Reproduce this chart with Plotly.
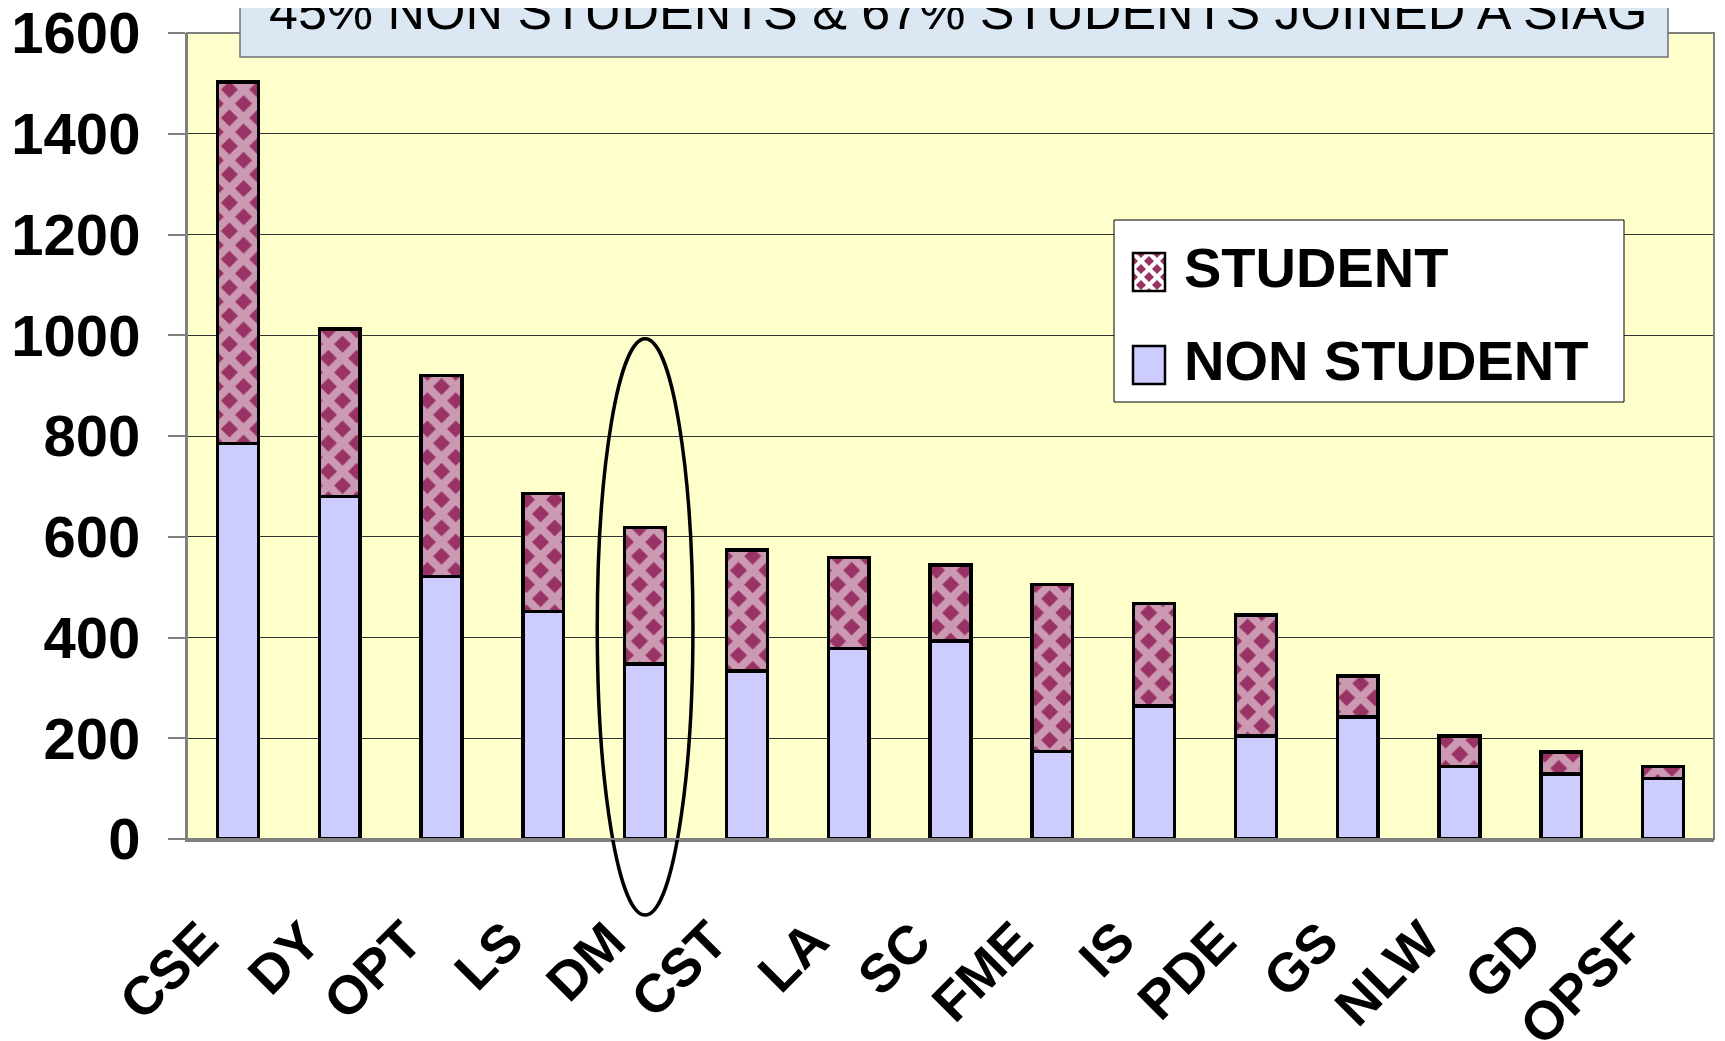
import plotly.graph_objects as go

categories = ["CSE", "DY", "OPT", "LS", "DM", "CST", "LA", "SC", "FME", "IS", "PDE", "GS", "NLW", "GD", "OPSF"]
non_student = [785, 680, 521, 452, 347, 334, 378, 393, 174, 264, 204, 242, 144, 129, 120]
student = [718, 332, 399, 234, 271, 240, 181, 151, 331, 204, 241, 82, 60, 44, 24]
y_ticks = [0, 200, 400, 600, 800, 1000, 1200, 1400, 1600]
title_text = "45% NON STUDENTS & 67% STUDENTS JOINED A SIAG"
legend_labels = ["STUDENT", "NON STUDENT"]

FONT = "Liberation Sans, Arial, sans-serif"
Y_MAX = 1600
MAROON = "#993366"
LAVENDER = "#CCCCFF"

W, H = 1725, 1041
ML, MR, MT, MB = 179, 19, 25, 210
BODY = 8  # default page margin of the html body
PL, PR, PT, PB = BODY + ML, BODY + W - MR, BODY + MT, BODY + H - MB


def px(x):
    return (x - PL) / (PR - PL)


def py(y):
    return (PB - y) / (PB - PT)


fig = go.Figure()
fig.add_trace(go.Bar(
    x=categories, y=non_student, name=legend_labels[1], showlegend=False,
    marker=dict(color=LAVENDER, line=dict(color="black", width=3.5)),
))
fig.add_trace(go.Bar(
    x=categories, y=student, name=legend_labels[0], showlegend=False,
    marker=dict(color=MAROON, line=dict(color="black", width=3.5),
                pattern=dict(shape="x", fgcolor="white", bgcolor=MAROON,
                             size=20, solidity=0.64)),
))

# highlight ellipse around DM (category/value units converted to paper)
n = len(categories)
dm = categories.index("DM")
ell_half = 0.47
ell_top, ell_bottom = 993, -151

shapes = [
    dict(type="circle", xref="paper", yref="paper",
         x0=(dm + 0.5 - ell_half) / n, x1=(dm + 0.5 + ell_half) / n,
         y0=ell_bottom / Y_MAX, y1=ell_top / Y_MAX,
         line=dict(color="black", width=3.5), fillcolor="rgba(0,0,0,0)", layer="above"),
    # plot area border
    dict(type="rect", xref="paper", yref="paper", x0=0, x1=1, y0=0, y1=1,
         line=dict(color="#808080", width=2), fillcolor="rgba(0,0,0,0)", layer="above"),
    # title box
    dict(type="rect", xref="paper", yref="paper", x0=px(240), x1=px(1668), y0=py(57), y1=1.2,
         line=dict(color="#707070", width=1.5), fillcolor="#DCE7F4", layer="above"),
    # legend box
    dict(type="rect", xref="paper", yref="paper", x0=px(1114), x1=px(1624), y0=py(402), y1=py(220),
         line=dict(color="black", width=1), fillcolor="white", layer="above"),
]

# legend swatches (pixel boxes)
sw_x0, sw_x1 = 1133, 1165
sw_student = (253, 291)
sw_non = (346, 384)


def clip_poly(poly, x0, x1, y0, y1):
    def clip(pts, inside, inter):
        out = []
        for i in range(len(pts)):
            cur, prev = pts[i], pts[i - 1]
            if inside(cur):
                if not inside(prev):
                    out.append(inter(prev, cur))
                out.append(cur)
            elif inside(prev):
                out.append(inter(prev, cur))
        return out

    def ix(xc):
        return lambda a, b: (xc, a[1] + (b[1] - a[1]) * (xc - a[0]) / (b[0] - a[0]))

    def iy(yc):
        return lambda a, b: (a[0] + (b[0] - a[0]) * (yc - a[1]) / (b[1] - a[1]), yc)

    pts = poly
    for ins, itr in [(lambda p: p[0] >= x0, ix(x0)), (lambda p: p[0] <= x1, ix(x1)),
                     (lambda p: p[1] >= y0, iy(y0)), (lambda p: p[1] <= y1, iy(y1))]:
        if not pts:
            break
        pts = clip(pts, ins, itr)
    return pts


s = 16
r = 5.0
diamond_paths = []
ya, yb = sw_student
for j in range(-1, 8):
    for i in range(-1, 4):
        cx = sw_x0 + i * s + (s / 2 if j % 2 == 0 else 0)
        cy = ya + j * s / 2
        poly = [(cx, cy - r), (cx + r, cy), (cx, cy + r), (cx - r, cy)]
        cp = clip_poly(poly, sw_x0, sw_x1, ya, yb)
        if len(cp) >= 3:
            diamond_paths.append("M" + "L".join(f"{px(x):.5f},{py(y):.5f}" for x, y in cp) + "Z")

shapes += [
    dict(type="rect", xref="paper", yref="paper", x0=px(sw_x0), x1=px(sw_x1),
         y0=py(sw_student[1]), y1=py(sw_student[0]),
         line=dict(width=0), fillcolor="white", layer="above"),
    dict(type="path", xref="paper", yref="paper", path="".join(diamond_paths),
         line=dict(width=0), fillcolor=MAROON, layer="above"),
    dict(type="rect", xref="paper", yref="paper", x0=px(sw_x0), x1=px(sw_x1),
         y0=py(sw_student[1]), y1=py(sw_student[0]),
         line=dict(color="black", width=2.5), fillcolor="rgba(0,0,0,0)", layer="above"),
    dict(type="rect", xref="paper", yref="paper", x0=px(sw_x0), x1=px(sw_x1),
         y0=py(sw_non[1]), y1=py(sw_non[0]),
         line=dict(color="black", width=2.5), fillcolor=LAVENDER, layer="above"),
]

annotations = [dict(text=title_text, xref="paper", yref="paper", x=px(958), y=py(11),
                    xanchor="center", yanchor="middle", showarrow=False,
                    font=dict(family=FONT, size=52, color="black"))]
for label, (ta, tb) in zip(legend_labels, [sw_student, sw_non]):
    annotations.append(dict(
        text=label, xref="paper", yref="paper", x=px(1182), y=py((ta + tb) / 2 - 5),
        xanchor="left", yanchor="middle", showarrow=False,
        font=dict(family=FONT, size=56, weight="bold", color="black")))
# category labels, rotated
for i, c in enumerate(categories):
    annotations.append(dict(
        text=c, xref="x", yref="paper", x=i, y=0, xshift=-6, yshift=-68,
        xanchor="right", yanchor="top", textangle=-45, showarrow=False,
        font=dict(family=FONT, size=54, weight="bold", color="black")))

fig.update_layout(
    width=W, height=H,
    margin=dict(l=ML, r=MR, t=MT, b=MB),
    barmode="stack", bargap=0.6,
    paper_bgcolor="white", plot_bgcolor="#FFFFCC",
    font=dict(family=FONT, color="black"),
    showlegend=False,
    shapes=shapes,
    annotations=annotations,
)
fig.update_xaxes(
    type="category", range=[-0.5, n - 0.5], automargin=False, showgrid=False,
    showline=True, linecolor="#808080", linewidth=3,
    ticks="", showticklabels=False,
)
fig.update_yaxes(
    range=[0, Y_MAX], tickvals=y_ticks, automargin=False,
    showgrid=True, gridcolor="#333333", gridwidth=1, zeroline=False,
    showline=True, linecolor="#808080", linewidth=2,
    ticks="outside", ticklen=17, tickcolor="#808080", tickwidth=2,
    ticklabelstandoff=16, ticklabeloverflow="allow",
    tickfont=dict(family=FONT, size=58, weight="bold", color="black"),
)

fig.write_html("out.html")
